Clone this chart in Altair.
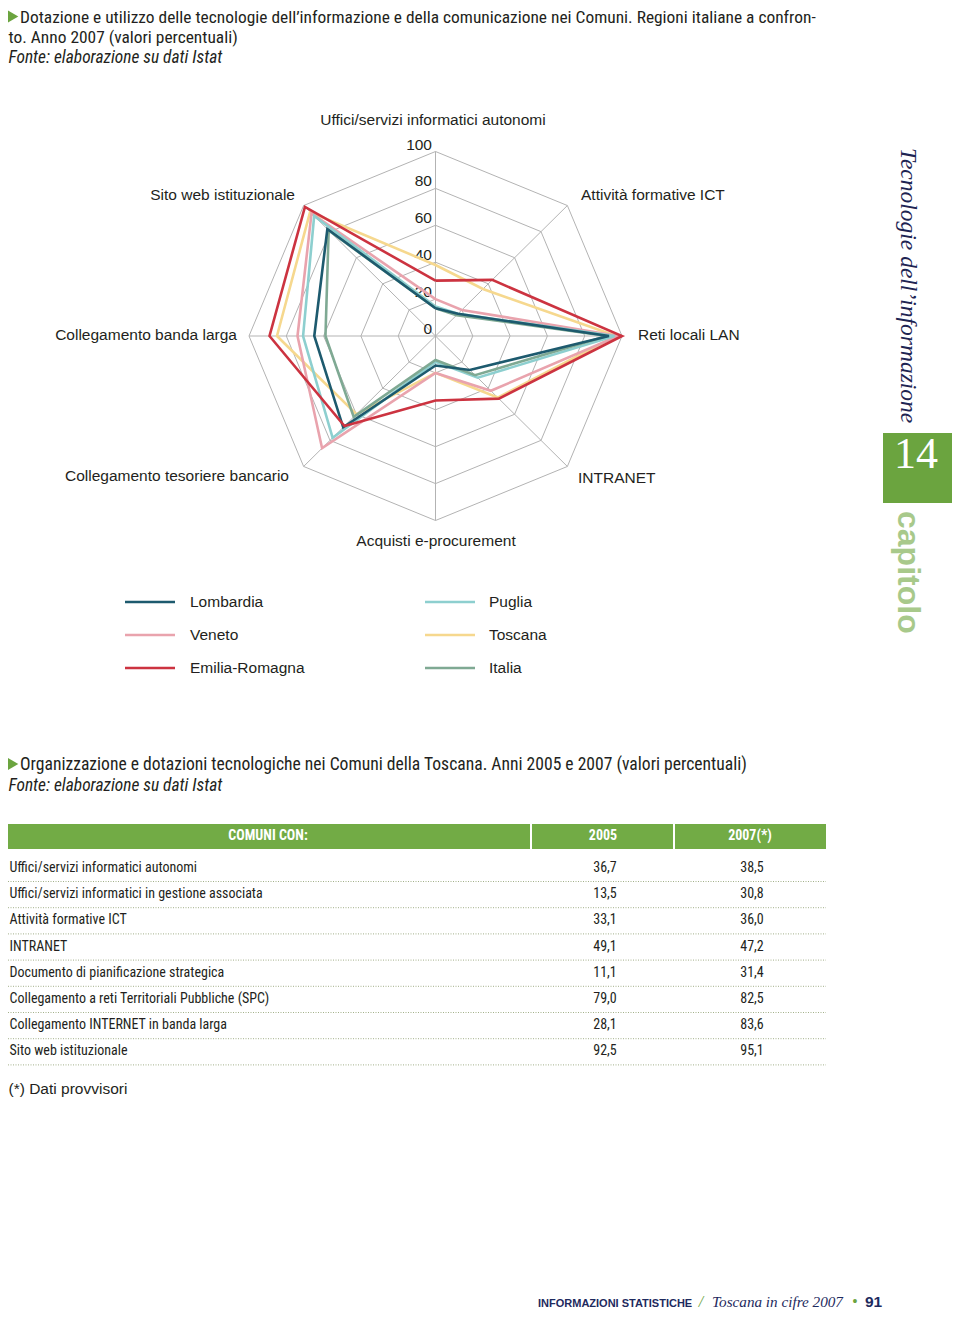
import altair as alt
import pandas as pd

# ---------------- data ----------------
axis_labels = [
    "Uffici/servizi informatici autonomi",
    "Attività formative ICT",
    "Reti locali LAN",
    "INTRANET",
    "Acquisti e-procurement",
    "Collegamento tesoriere bancario",
    "Collegamento banda larga",
    "Sito web istituzionale",
]
regions = ["Lombardia", "Veneto", "Emilia-Romagna", "Puglia", "Toscana", "Italia"]
region_colors = ["#1d5a6e", "#e9a3ad", "#cc3340", "#8dcfcf", "#f6d88e", "#7fa993"]
lombardia = [15, 17, 93, 26, 16, 70, 65, 82]
veneto = [20, 20, 98, 42, 20, 86, 74, 94]
emilia_romagna = [30, 43, 100, 48, 35, 69, 89, 99]
puglia = [16, 17, 96, 32, 14, 78, 71, 92]
toscana = [38.5, 36, 97, 47.2, 20, 60, 85, 95.1]
italia = [15, 16, 92, 30, 13, 62, 59, 81]
draw_order = ["Toscana", "Veneto", "Puglia", "Italia", "Lombardia", "Emilia-Romagna"]

grid_levels = [20, 40, 60, 80, 100]
tick_values = [0, 20, 40, 60, 80, 100]

table_labels = [
    "Uffici/servizi informatici autonomi",
    "Uffici/servizi informatici in gestione associata",
    "Attività formative ICT",
    "INTRANET",
    "Documento di pianificazione strategica",
    "Collegamento a reti Territoriali Pubbliche (SPC)",
    "Collegamento INTERNET in banda larga",
    "Sito web istituzionale",
]
values_2005 = [36.7, 13.5, 33.1, 49.1, 11.1, 79.0, 28.1, 92.5]
values_2007 = [38.5, 30.8, 36.0, 47.2, 31.4, 82.5, 83.6, 95.1]
table_header = ["COMUNI CON:", "2005", "2007(*)"]

title1 = "Dotazione e utilizzo delle tecnologie dell’informazione e della comunicazione nei Comuni. Regioni italiane a confron-"
title1b = "to. Anno 2007 (valori percentuali)"
source = "Fonte: elaborazione su dati Istat"
title2 = "Organizzazione e dotazioni tecnologiche nei Comuni della Toscana. Anni 2005 e 2007 (valori percentuali)"
footnote = "(*) Dati provvisori"
side_title = "Tecnologie dell’informazione"
chapter_no = "14"
chapter_word = "capitolo"

# ---------------- styles ----------------
NARROW = "Liberation Sans Narrow, Arial Narrow, Roboto Condensed, sans-serif"
SANS = "Liberation Sans, Arial, sans-serif"
SERIF = "Liberation Serif, Times New Roman, serif"
INK = "#231f20"
GREEN = "#6ba43f"
NAVY = "#1e2a5e"

CX, CY, KX, KY = 435.5, 336.0, 1.865, 1.845

XS = alt.Scale(domain=[8, 952], range=[0, 944], nice=False, zero=False)
YS = alt.Scale(domain=[8, 1312], range=[0, 1304], nice=False, zero=False)


def X(f):
    return alt.X(f, type="quantitative", scale=XS, axis=None)


def Y(f):
    return alt.Y(f, type="quantitative", scale=YS, axis=None)


def X2(f):
    return alt.X2(f)


def Y2(f):
    return alt.Y2(f)


def text_layer(xs, ys, texts, size, color=INK, align="left", font=SANS,
               style="normal", weight="normal", angle=0, baseline="middle"):
    df = pd.DataFrame({"x": xs, "y": ys, "t": texts})
    kw = dict(align=align, baseline=baseline, font=font, fontSize=size,
              color=color, fontStyle=style, fontWeight=weight)
    if angle:
        kw["angle"] = angle
    return alt.Chart(df).mark_text(**kw).encode(x=X("x"), y=Y("y"), text="t:N")


polar = {
    "px": f"{CX} + datum.value * {KX} * sin(datum.idx * PI / 4)",
    "py": f"{CY} - datum.value * {KY} * cos(datum.idx * PI / 4)",
}

layers = []

# ---------------- radar grid ----------------
grid_rows = []
for lv in grid_levels:
    for i in range(9):
        grid_rows.append({"level": lv, "idx": i, "value": lv})
grid = (
    alt.Chart(pd.DataFrame(grid_rows))
    .transform_calculate(**polar)
    .mark_line(color="#b3b3b3", strokeWidth=1)
    .encode(x=X("px:Q"), y=Y("py:Q"), detail="level:N", order="idx:Q")
)
spokes = (
    alt.Chart(pd.DataFrame({"idx": list(range(8)), "value": [100] * 8}))
    .transform_calculate(**polar)
    .transform_calculate(cx=str(CX), cy=str(CY))
    .mark_rule(color="#b3b3b3", strokeWidth=1)
    .encode(x=X("cx:Q"), y=Y("cy:Q"), x2=X2("px"), y2=Y2("py"))
)
layers += [grid, spokes]

# tick labels
tick_df = pd.DataFrame({"value": tick_values, "lab": [str(v) for v in tick_values]})
ticks = (
    alt.Chart(tick_df)
    .transform_calculate(tx="432", ty=f"{CY} - datum.value * {KY} - 7")
    .mark_text(align="right", baseline="middle", font=SANS, fontSize=15.5, color=INK)
    .encode(x=X("tx:Q"), y=Y("ty:Q"), text="lab:N")
)
layers.append(ticks)

# ---------------- radar series ----------------
series = {
    "Lombardia": lombardia,
    "Veneto": veneto,
    "Emilia-Romagna": emilia_romagna,
    "Puglia": puglia,
    "Toscana": toscana,
    "Italia": italia,
}
color_of = dict(zip(regions, region_colors))
for reg in draw_order:
    vals = series[reg]
    rows = [{"idx": i, "value": vals[i % 8], "axis": axis_labels[i % 8]} for i in range(9)]
    lyr = (
        alt.Chart(pd.DataFrame(rows))
        .transform_calculate(**polar)
        .mark_line(color=color_of[reg], strokeWidth=2.6, strokeJoin="miter")
        .encode(x=X("px:Q"), y=Y("py:Q"), order="idx:Q")
    )
    layers.append(lyr)

# axis labels
layers.append(text_layer([433, 436], [120, 541], [axis_labels[0], axis_labels[4]], 15.5, align="center"))
layers.append(text_layer([581, 638, 578], [195, 335, 478],
                         [axis_labels[1], axis_labels[2], axis_labels[3]], 15.5, align="left"))
layers.append(text_layer([295, 237, 289], [195, 335, 476],
                         [axis_labels[7], axis_labels[6], axis_labels[5]], 15.5, align="right"))

# legend
leg_df = pd.DataFrame({
    "reg": regions,
    "col": [0, 0, 0, 1, 1, 1],
    "row": [0, 1, 2, 0, 1, 2],
    "c": region_colors,
})
leg_base = alt.Chart(leg_df).transform_calculate(
    lx="125 + datum.col * 300", lx2="175 + datum.col * 300",
    tx="190 + datum.col * 299", ly="602 + datum.row * 33",
)
layers.append(
    leg_base.mark_rule(strokeWidth=2.6).encode(
        x=X("lx:Q"), x2=X2("lx2"), y=Y("ly:Q"), color=alt.Color("c:N", scale=None)
    )
)
layers.append(
    leg_base.mark_text(align="left", baseline="middle", font=SANS, fontSize=15.5, color=INK).encode(
        x=X("tx:Q"), y=Y("ly:Q"), text="reg:N"
    )
)

# ---------------- titles ----------------
tri = alt.Chart(pd.DataFrame({"x": [13, 13], "y": [16.5, 764]})).mark_point(
    shape="triangle-right", filled=True, color=GREEN, size=150, opacity=1
).encode(x=X("x"), y=Y("y"))
layers.append(tri)
layers.append(text_layer([20, 8.5], [17.5, 37.5], [title1, title1b], 17.4, font=NARROW))
layers.append(text_layer([8.5, 8.5], [58, 786], [source, source], 17.4, font=NARROW, style="italic"))
layers.append(text_layer([20], [765], [title2], 17.6, font=NARROW))

# ---------------- side bar ----------------
layers.append(text_layer([908], [148], [side_title], 23.5, color="#1e2452", font=SERIF,
                         style="italic", angle=90, align="left"))
box = alt.Chart(pd.DataFrame({"x": [883], "x2": [953], "y": [433], "y2": [503]})).mark_rect(
    color=GREEN).encode(x=X("x"), x2=X2("x2"), y=Y("y"), y2=Y2("y2"))
layers.append(box)
layers.append(text_layer([916], [455], [chapter_no], 44, color="white", font=SERIF,
                         align="center"))
layers.append(text_layer([908], [511], [chapter_word], 32, color="#a8c98b", font=SANS,
                         weight="bold", angle=90, align="left"))

# ---------------- table ----------------
hdr = alt.Chart(pd.DataFrame({"x": [8], "x2": [826], "y": [824], "y2": [849]})).mark_rect(
    color="#72ab45").encode(x=X("x"), x2=X2("x2"), y=Y("y"), y2=Y2("y2"))
layers.append(hdr)
seps = alt.Chart(pd.DataFrame({"x": [531, 674]})).transform_calculate(y="824", y2="849").mark_rule(
    color="white", strokeWidth=2).encode(x=X("x"), y=Y("y:Q"), y2=Y2("y2"))
layers.append(seps)
layers.append(text_layer([268, 603, 750], [836, 836, 836], table_header, 14, color="white",
                         font=NARROW, weight="bold", align="center"))

tab_df = pd.DataFrame({"i": list(range(8)), "lab": table_labels,
                       "a": values_2005, "b": values_2007})
tab_base = alt.Chart(tab_df).transform_calculate(
    ty="868 + datum.i * 26.2",
    ly="881.5 + datum.i * 26.2",
    sa="replace(format(datum.a, '.1f'), '.', ',')",
    sb="replace(format(datum.b, '.1f'), '.', ',')",
    lx="9.5", ax="605", bx="752", rx="8", rx2="826",
)
layers.append(tab_base.mark_text(align="left", baseline="middle", font=NARROW, fontSize=14,
                                 color=INK).encode(x=X("lx:Q"), y=Y("ty:Q"), text="lab:N"))
layers.append(tab_base.mark_text(align="center", baseline="middle", font=NARROW, fontSize=14,
                                 color=INK).encode(x=X("ax:Q"), y=Y("ty:Q"), text="sa:N"))
layers.append(tab_base.mark_text(align="center", baseline="middle", font=NARROW, fontSize=14,
                                 color=INK).encode(x=X("bx:Q"), y=Y("ty:Q"), text="sb:N"))
layers.append(tab_base.mark_rule(color="#a3b08a", strokeWidth=1, strokeDash=[1, 1.5]).encode(
    x=X("rx:Q"), x2=X2("rx2"), y=Y("ly:Q")))

layers.append(text_layer([8.5], [1089], [footnote], 15.5, font=SANS))

# ---------------- footer ----------------
FB = 1307
layers.append(text_layer([538], [FB], ["INFORMAZIONI STATISTICHE"], 11, color=NAVY,
                         font=SANS, weight="bold", baseline="alphabetic"))
layers.append(text_layer([701], [FB], ["/"], 16, color=GREEN, font=SERIF, style="italic",
                         align="center", baseline="alphabetic"))
layers.append(text_layer([712], [FB], ["Toscana in cifre 2007"], 15.2, color=NAVY, font=SERIF,
                         style="italic", baseline="alphabetic"))
layers.append(text_layer([855], [FB - 1], ["•"], 14, color=GREEN, font=SANS, align="center",
                         baseline="alphabetic"))
layers.append(text_layer([865], [FB], ["91"], 15.5, color=NAVY, font=SANS, weight="bold",
                         baseline="alphabetic"))

chart = (
    alt.layer(*layers)
    .properties(width=944, height=1304, padding=0, autosize="none", background="white")
    .configure_view(stroke=None)
)
chart.save("out.html", embed_options={"renderer": "svg", "actions": False})
